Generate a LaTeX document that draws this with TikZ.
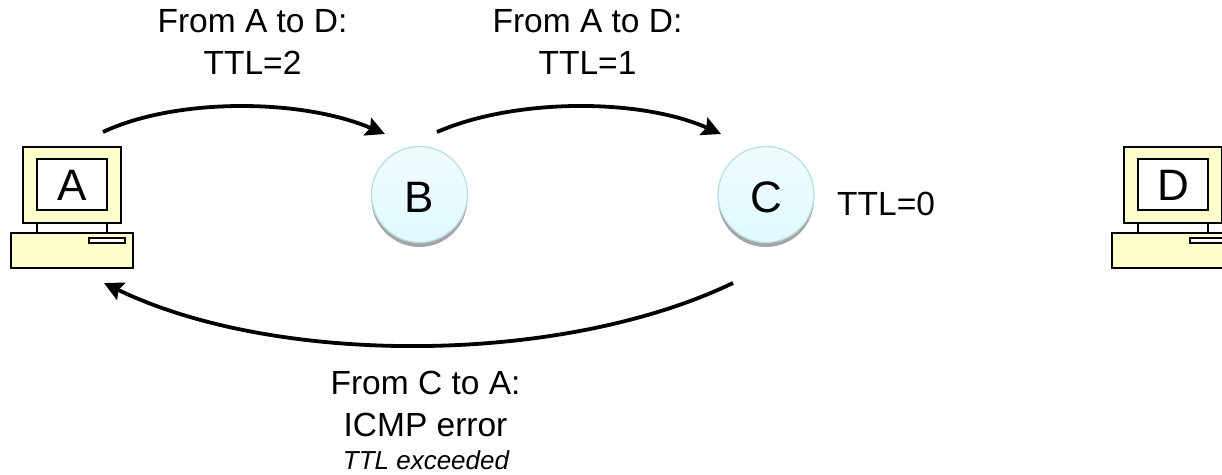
\documentclass[tikz,border=0pt]{standalone}
\usepackage{fontspec}
\setmainfont{Liberation Sans}
\usetikzlibrary{arrows.meta}
\definecolor{pcyellow}{RGB}{255,255,204}
\definecolor{ringedge}{RGB}{182,222,228}
\definecolor{ringtop}{RGB}{240,252,254}
\definecolor{ringbot}{RGB}{224,250,255}
\definecolor{ringshade}{RGB}{165,165,165}
\tikzset{
  x=1pt,y=-1pt,
  pcpart/.style={draw=black,line width=1.6pt,fill=pcyellow},
  pcscreen/.style={draw=black,line width=1.6pt,fill=white},
  router/.style={circle,minimum size=96pt,inner sep=0pt,draw=ringedge,line width=1.2pt,top color=ringtop,bottom color=ringbot},
  ringshadow/.style={fill=ringshade},
  bigtext/.style={font=\fontsize{44}{46}\selectfont,inner sep=0pt,anchor=base},
  lab/.style={align=center,font=\fontsize{33.5}{41.7}\selectfont,inner sep=0pt},
  flow/.style={line width=3.8pt,-{Stealth[length=19pt,width=19pt,inset=3pt]}},
}
\newcommand{\computer}[2]{%
  \begin{scope}[shift={(#1,0)}]
    \draw[line width=1.6pt] (37,223) -- (37,233) (107,223) -- (107,233);
    \path[pcpart] (23,147) rectangle (121,223);
    \path[pcscreen] (37,159) rectangle (107,210);
    \path[pcpart] (11,233) rectangle (133,268);
    \path[pcscreen] (89,238) rectangle (125,243);
    \node[bigtext] (#2) at (72,200) {#2};
  \end{scope}}
\begin{document}
\begin{tikzpicture}
\useasboundingbox (0,0) rectangle (1222,474);
\begin{scope}
\clip (0,0) rectangle (1222,474);
\computer{0}{A}
\computer{1101}{D}
\end{scope}
\fill[ringshadow] (419.5,199) circle (48);
\node[router] (B) at (419.5,194.5) {};
\node[bigtext] (Bt) at (419.5,212) {B};
\fill[ringshadow] (766,199) circle (48);
\node[router] (C) at (766,194.5) {};
\node[bigtext] (Ct) at (766,212) {C};
\coordinate (a1) at (103,132);
\coordinate (b0) at (385,134);
\coordinate (b1) at (437,132);
\coordinate (c0) at (721,134);
\coordinate (c1) at (733,283);
\coordinate (a0) at (104,283);
\draw[flow] (a1) .. controls (175,98) and (300,98) .. (b0);
\draw[flow] (b1) .. controls (515,98) and (640,98) .. (c0);
\draw[flow] (c1) .. controls (560,366) and (275,366) .. (a0);
\node[lab] (l1) at (252.5,42) {From A to D:\\TTL=2};
\node[lab] (l2) at (587.5,42) {From A to D:\\TTL=1};
\node[lab,anchor=base west] (l3) at (837,215) {TTL=0};
\node[lab] (l4) at (425.5,404) {From C to A:\\ICMP error};
\node[lab,font=\fontsize{26}{28}\itshape\selectfont,anchor=base] (l5) at (426,469) {TTL exceeded};
\end{tikzpicture}
\end{document}
